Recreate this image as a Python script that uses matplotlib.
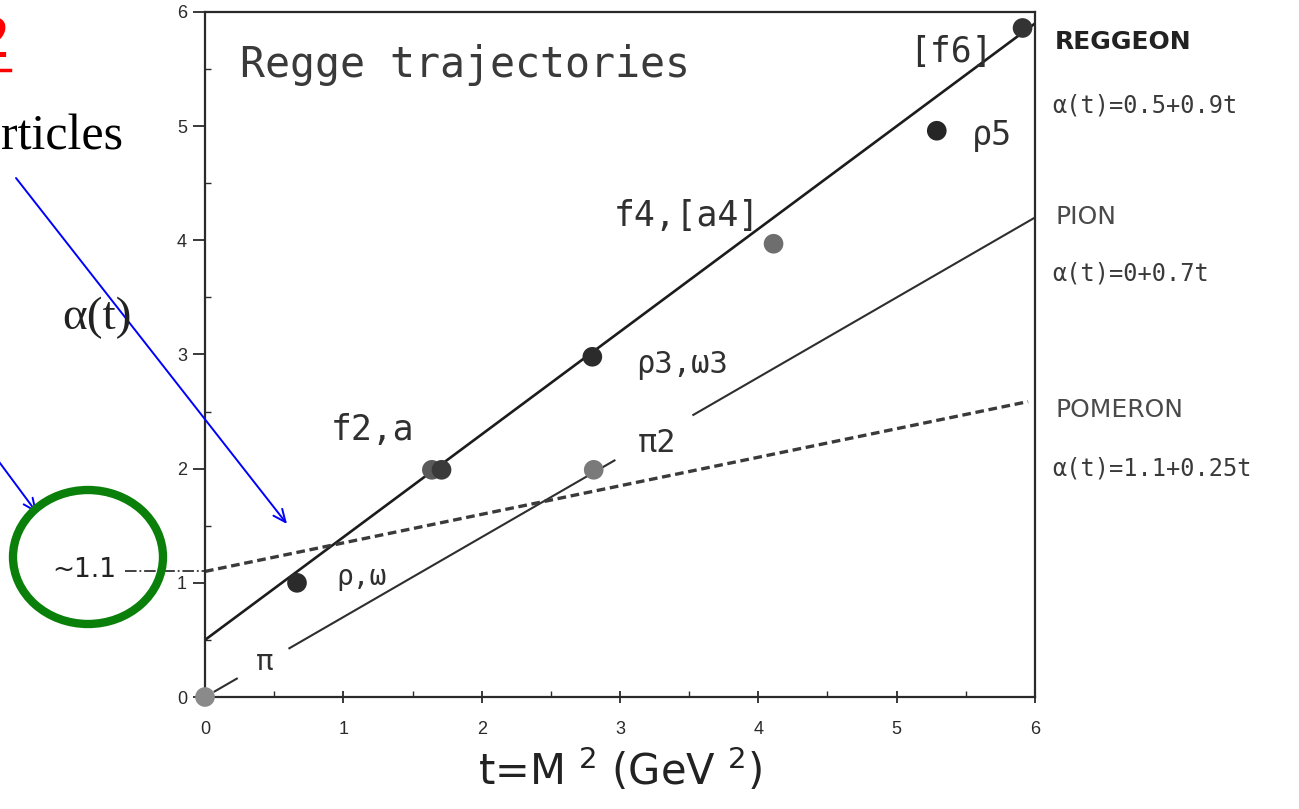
import matplotlib
matplotlib.use('Agg')
import matplotlib.pyplot as plt
import numpy as np
from matplotlib.patches import Ellipse
from matplotlib.lines import Line2D

W, H = 1299, 809

# trajectory fits, alpha(t) = intercept + slope * t
reggeon_fit = (0.5, 0.9)
pion_fit = (0.0, 0.7)
pomeron_fit = (1.1, 0.25)

# resonances on the leading trajectory
reggeon_t = [0.665, 1.64, 1.71, 2.80, 4.11, 5.29, 5.91]
reggeon_alpha = [1.0, 1.99, 1.99, 2.98, 3.97, 4.96, 5.86]
reggeon_shade = ['#2b2b2b', '#5a5a5a', '#3a3a3a', '#2b2b2b', '#6e6e6e', '#262626', '#333333']

# pion and its recurrence
pion_t = [0.0, 2.81]
pion_alpha = [0.0, 1.99]
pion_shade = ['#8a8a8a', '#7a7a7a']

# pion line is broken where the labels sit
pion_segments = [(0.07, 0.23), (0.61, 2.96), (3.53, 6.0)]

x_ticks = [0, 1, 2, 3, 4, 5, 6]
y_ticks = [0, 1, 2, 3, 4, 5, 6]

# particle labels: text, t, alpha, size
particle_labels = [
    ('[f6]', 5.39, 5.65, 25),
    ('ρ5', 5.69, 4.92, 24),
    ('f4,[a4]', 3.48, 4.21, 25),
    ('ρ3,ω3', 3.45, 2.90, 22),
    ('π2', 3.27, 2.22, 23),
    ('f2,a', 1.21, 2.34, 25),
    ('ρ,ω', 1.13, 1.05, 20),
    ('π', 0.43, 0.31, 21),
]

# fit captions to the right of the frame
fit_names = ['REGGEON', 'PION', 'POMERON']
fit_formulas = ['α(t)=0.5+0.9t', 'α(t)=0+0.7t', 'α(t)=1.1+0.25t']

mono = 'DejaVu Sans Mono'
serif = 'Liberation Serif'
ink = '#2a2a2a'
plt.rcParams['mathtext.fontset'] = 'dejavusans'


def fig_xy(x, y):
    return x / W, 1 - y / H


def trajectory(fit, t0, t1):
    t = np.linspace(t0, t1, 50)
    return t, fit[0] + fit[1] * t


fig = plt.figure(figsize=(W / 100, H / 100), dpi=100)
ax = fig.add_axes([205 / W, (H - 697) / H, 830 / W, 685 / H])
ax.set_xlim(0, 6)
ax.set_ylim(0, 6)

t, a = trajectory(reggeon_fit, 0, 6)
ax.plot(t, a, color='#1c1c1c', lw=1.9, zorder=2)

for t0, t1 in pion_segments:
    t, a = trajectory(pion_fit, t0, t1)
    ax.plot(t, a, color='#2e2e2e', lw=1.5, zorder=2)

t, a = trajectory(pomeron_fit, 0, 5.95)
ax.plot(t, a, color='#3a3a3a', lw=2.4, ls=(0, (2.6, 1.4)), zorder=2)
# intercept carried out to the ~1.1 note
t, a = trajectory((pomeron_fit[0], 0), -0.58, 0)
ax.plot(t, a, color='#333333', lw=1.3, ls='-.', clip_on=False, zorder=2)

ax.scatter(reggeon_t, reggeon_alpha, s=200, c=reggeon_shade, edgecolors='none', zorder=3, clip_on=False)
ax.scatter(pion_t, pion_alpha, s=200, c=pion_shade, edgecolors='none', zorder=3, clip_on=False)

for text, t, a, size in particle_labels:
    ax.text(t, a, text, fontsize=size, family=mono, color='#303030', ha='center', va='center')

ax.text(0.25, 5.54, 'Regge trajectories', fontsize=30, family=mono, color='#3a3a3a', ha='left', va='center')

ax.set_xticks(x_ticks)
ax.set_yticks(y_ticks)
ax.set_xticks(np.arange(0.5, 6, 1), minor=True)
ax.set_yticks(np.arange(0.5, 6, 1), minor=True)
ax.tick_params(axis='y', which='major', direction='out', length=9, width=1.3, labelsize=13, colors=ink, pad=4)
ax.tick_params(axis='x', which='major', direction='inout', length=9, width=1.3, labelsize=13, colors=ink, pad=13)
ax.tick_params(which='minor', direction='in', length=4, width=1, colors=ink)
for lab in ax.get_xticklabels() + ax.get_yticklabels():
    lab.set_family('Liberation Sans')
for side in ['left', 'right', 'top', 'bottom']:
    ax.spines[side].set_linewidth(1.6)
    ax.spines[side].set_color(ink)

ax.set_xlabel('t=M $^{2}$ (GeV $^{2}$)', fontsize=30, color='#222222', labelpad=6)

# captions for each trajectory
caption_y = [(42, 105), (217, 273), (410, 468)]
for name, formula, (yn, yf) in zip(fit_names, fit_formulas, caption_y):
    bold = 'bold' if name == 'REGGEON' else 'normal'
    shade = '#222222' if name == 'REGGEON' else '#4a4a4a'
    fig.text(*fig_xy(1055, yn), name, fontsize=18, fontweight=bold, color=shade, ha='left', va='center')
    fig.text(*fig_xy(1052, yf), formula, fontsize=17, family=mono, color='#3a3a3a', ha='left', va='center')

# slide overlay: heading, axis name, arrows and the circled intercept
fig.text(*fig_xy(9, 42), '2', fontsize=44, family=serif, color='red', ha='right', va='center')
fig.add_artist(Line2D([0, 10 / W], [1 - 70 / H] * 2, transform=fig.transFigure, color='red', lw=2.5))
fig.text(*fig_xy(123, 137), 'rticles', fontsize=36, family=serif, color='black', ha='right', va='center')
fig.text(*fig_xy(97, 318), 'α(t)', fontsize=34, family=serif, color='#222222', ha='center', va='center')
fig.text(*fig_xy(84, 570), '~1.1', fontsize=19, color='#222222', ha='center', va='center')

fig.add_artist(Ellipse(fig_xy(88, 557), 150 / W, 134 / H, transform=fig.transFigure,
                       fill=False, ec='#0a800a', lw=6))

arrow_style = dict(arrowstyle='->,head_length=0.9,head_width=0.4', color='blue', lw=1.4, shrinkA=0, shrinkB=0)
for (x0, y0), (x1, y1) in [((16, 178), (287, 524)), ((-6, 455), (37, 513))]:
    ax.annotate('', xy=(x1, H - y1), xytext=(x0, H - y0), xycoords='figure pixels',
                textcoords='figure pixels', arrowprops=arrow_style, annotation_clip=False)

fig.savefig('out.png', dpi=100)
